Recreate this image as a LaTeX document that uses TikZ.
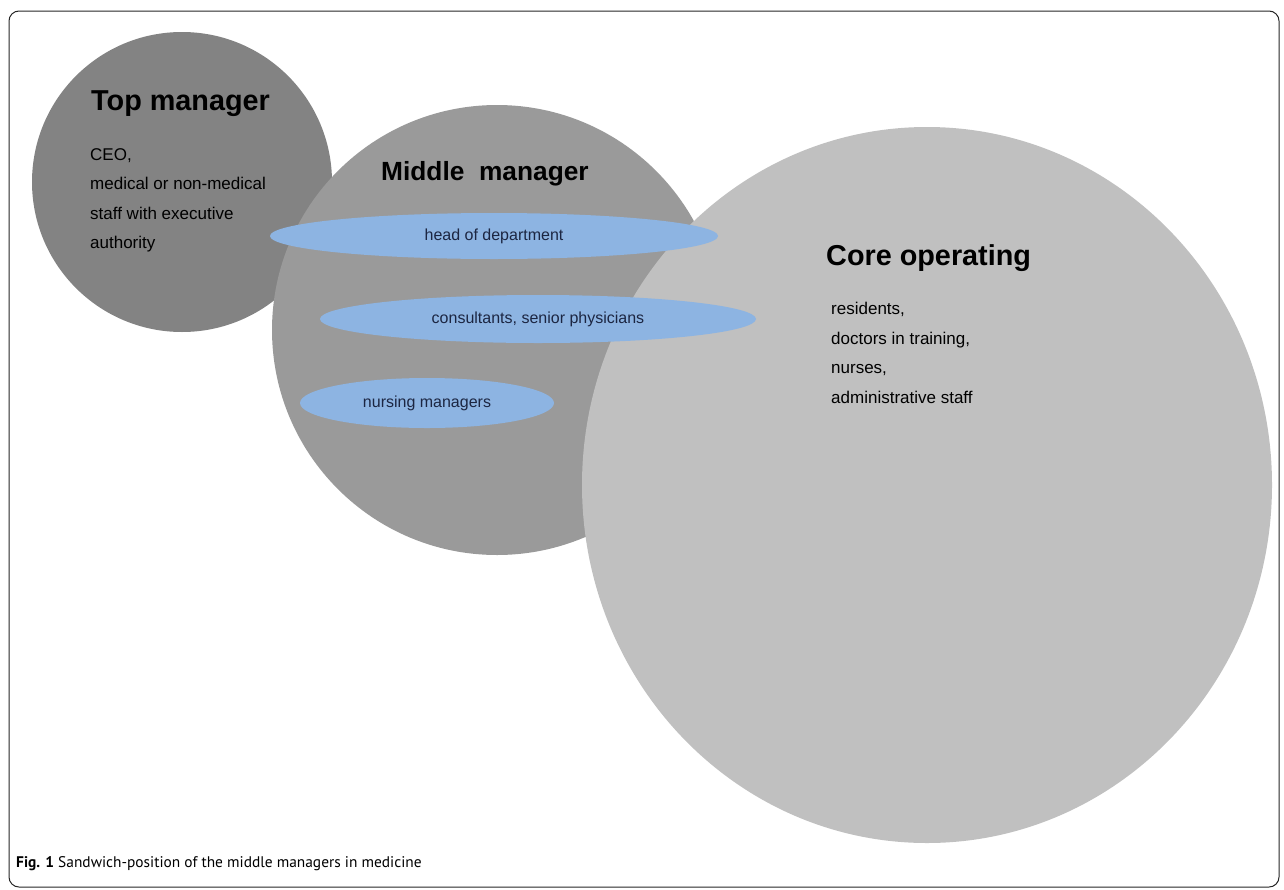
\documentclass[tikz,border=0pt]{standalone}
\usepackage{fontspec}
\setmainfont{Liberation Sans}
\newfontfamily\capfont{PT Sans}
\usetikzlibrary{shapes.geometric}

\definecolor{topgray}{HTML}{838383}
\definecolor{midgray}{HTML}{9A9A9A}
\definecolor{coregray}{HTML}{C0C0C0}
\definecolor{roleblue}{HTML}{8DB4E2}
\definecolor{roletext}{HTML}{1C2642}

\begin{document}
\begin{tikzpicture}[x=10pt,y=10pt]
\tikzstyle{every node}+=[inner sep=0pt]
\tikzstyle{level}=[anchor=base west, font=\bfseries\fontsize{28.8}{34}\selectfont]
\tikzstyle{staff}=[anchor=north west, align=left, font=\fontsize{17}{29.5}\selectfont]
\tikzstyle{role}=[ellipse, fill=roleblue, text=roletext, font=\fontsize{16}{19}\selectfont]
\useasboundingbox (0,0) rectangle (128.4,-88.9);
\draw [draw=black!85, line width=1pt, rounded corners=10pt] (0.9,-1.1) rectangle (127.9,-88.7);
% three levels, back to front
\fill [topgray] (18.2,-18.2) circle (15.0);
\fill [midgray] (49.7,-33.0) circle (22.5);
\fill [coregray] (92.7,-48.5) ellipse (34.5 and 35.8);
\node [level] (top) at (9.1,-11.0) {Top manager};
\node [staff] (topstaff) at (9.0,-14.8) {CEO,\\medical or non-medical\\staff with executive\\authority};
\node [level, font=\bfseries\fontsize{26.3}{31}\selectfont] (middle) at (38.1,-18.0) {Middle\ \ manager};
\node [level] (core) at (82.6,-26.5) {Core operating};
\node [staff] (corestaff) at (83.1,-30.2) {residents,\\doctors in training,\\nurses,\\administrative staff};
% middle manager roles
\node [role, minimum width=448pt, minimum height=46pt] (head) at (49.4,-23.6) {head of department};
\node [role, minimum width=436pt, minimum height=48pt] (consultants) at (53.8,-31.9) {consultants, senior physicians};
\node [role, minimum width=254pt, minimum height=50pt] (nursing) at (42.7,-40.3) {nursing managers};
\node [anchor=base west, font=\capfont\fontsize{15.4}{18}\selectfont] (caption) at (1.6,-86.7) {\textbf{Fig. 1} Sandwich-position of the middle managers in medicine};
\end{tikzpicture}
\end{document}
